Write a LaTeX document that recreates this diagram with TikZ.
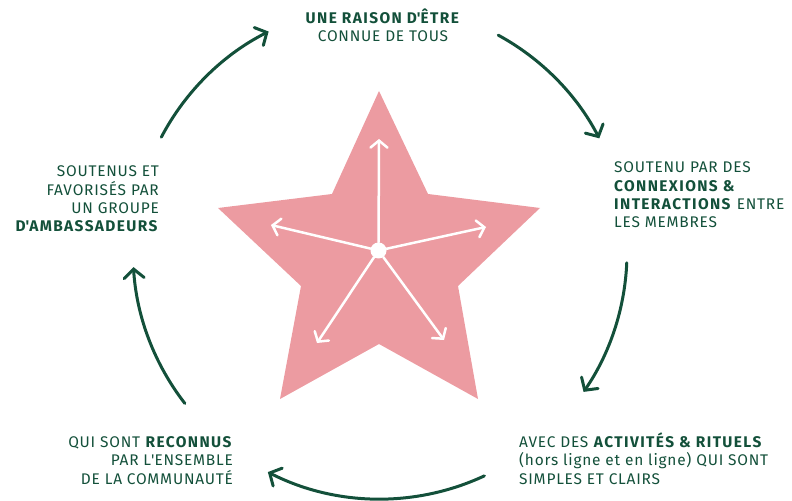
\documentclass[tikz,border=0pt]{standalone}
\usepackage{fontspec}
\setmainfont{Fira Sans}[LetterSpace=5, BoldFeatures={LetterSpace=9}]
\usetikzlibrary{arrows.meta}

\definecolor{pine}{HTML}{13503A}
\definecolor{blush}{HTML}{EC9BA1}

\tikzset{
  ring arrow/.style={pine, line width=3bp, line cap=round,
    -{Straight Barb[length=9bp,width=20bp,line cap=round]}},
  spoke/.style={white, line width=2.5bp, line cap=round,
    -{Straight Barb[length=7bp,width=17bp,line cap=round]}},
  caption/.style={pine, inner sep=0, font=\fontsize{15.5}{18.5}\selectfont},
}
\newcommand{\apos}{\textquotesingle}

\begin{document}
\begin{tikzpicture}[x=1bp,y=-1bp]
  \useasboundingbox (0,0) rectangle (792,501);

  % the star and its spokes
  \fill[blush] (379,91) -- (428,194) -- (540,208) -- (458,286) -- (478,399)
    -- (379,344) -- (280,399) -- (301,286) -- (218,208) -- (332,194) -- cycle;
  \node[circle, fill=white, minimum size=16bp, inner sep=0] (hub) at (378.5,250.5) {};
  \coordinate (up) at (379,139);
  \coordinate (west) at (271,225);
  \coordinate (east) at (486,227);
  \coordinate (sw) at (317,343);
  \coordinate (se) at (444,340);
  \foreach \tip in {up,west,east,sw,se}
    \draw[spoke] (hub) -- (\tip);

  % the five steps round the star (anchored on their last line)
  \node[caption, align=center, anchor=base] (purpose) at (383,42)
    {\textbf{UNE RAISON D\apos ÊTRE}\\CONNUE DE TOUS};
  \node[caption, align=left, anchor=base west] (links) at (614,228)
    {SOUTENU PAR DES\\\textbf{CONNEXIONS \&}\\\textbf{INTERACTIONS} ENTRE\\LES MEMBRES};
  \node[caption, align=left, anchor=base west] (rituals) at (519,484)
    {AVEC DES \textbf{ACTIVITÉS \& RITUELS}\\(hors ligne et en ligne) QUI SONT\\SIMPLES ET CLAIRS};
  \node[caption, align=right, anchor=base east] (recognised) at (233,484)
    {QUI SONT \textbf{RECONNUS}\\PAR L\apos ENSEMBLE\\DE LA COMMUNAUTÉ};
  \node[caption, align=right, anchor=base east] (ambassadors) at (159,232)
    {SOUTENUS ET\\FAVORISÉS PAR\\UN GROUPE\\\textbf{D\apos AMBASSADEURS}};

  % arrows of the cycle
  \coordinate (ring) at (380,252);
  \foreach \a/\b in {207.7/243.2, 298.6/332.6, 2.5/34.5, 65/117, 142.2/176.5}
    \draw[ring arrow] (ring) ++(\a:247) arc[start angle=\a, end angle=\b, radius=247];
\end{tikzpicture}
\end{document}
